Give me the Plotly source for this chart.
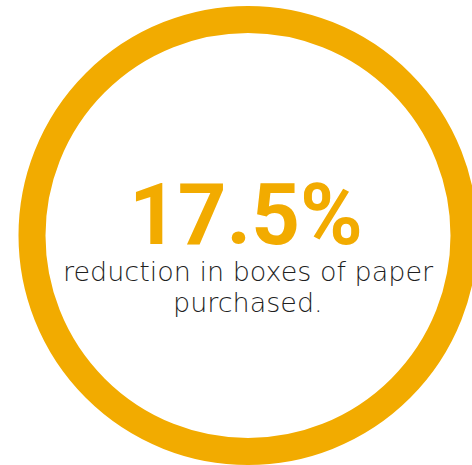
import plotly.graph_objects as go

# Headline figure and caption
reduction_pct = 17.5
caption_lines = ["reduction in boxes of paper", "purchased."]

ACCENT = "#F2AB00"
TEXT_DARK = "#1f1f1f"

W, H = 472, 465
cx, cy = 248, 235.5          # ring centre in pixels (from top-left)
r_mid, ring_w = 216, 27      # ring mid-radius and stroke width

fig = go.Figure()

fig.add_shape(
    type="circle", xref="paper", yref="paper",
    x0=(cx - r_mid) / W, x1=(cx + r_mid) / W,
    y0=1 - (cy + r_mid) / H, y1=1 - (cy - r_mid) / H,
    line=dict(color=ACCENT, width=ring_w), fillcolor="rgba(0,0,0,0)",
)

fig.add_annotation(
    x=246 / W, y=1 - 215 / H, xref="paper", yref="paper",
    text=f"<b>{reduction_pct:g}%</b>", showarrow=False,
    font=dict(family="Roboto", size=85, color=ACCENT),
    xanchor="center", yanchor="middle",
)
for line, ypx in zip(caption_lines, [271, 302]):
    fig.add_annotation(
        x=248 / W, y=1 - ypx / H, xref="paper", yref="paper",
        text=line, showarrow=False,
        font=dict(family="DejaVu Sans", size=27, color=TEXT_DARK, weight=200),
        xanchor="center", yanchor="middle", align="center",
    )

fig.update_layout(
    width=W, height=H, margin=dict(l=0, r=0, t=0, b=0),
    paper_bgcolor="white", plot_bgcolor="white",
    xaxis=dict(visible=False), yaxis=dict(visible=False),
    showlegend=False,
)

fig.write_html("out.html")
